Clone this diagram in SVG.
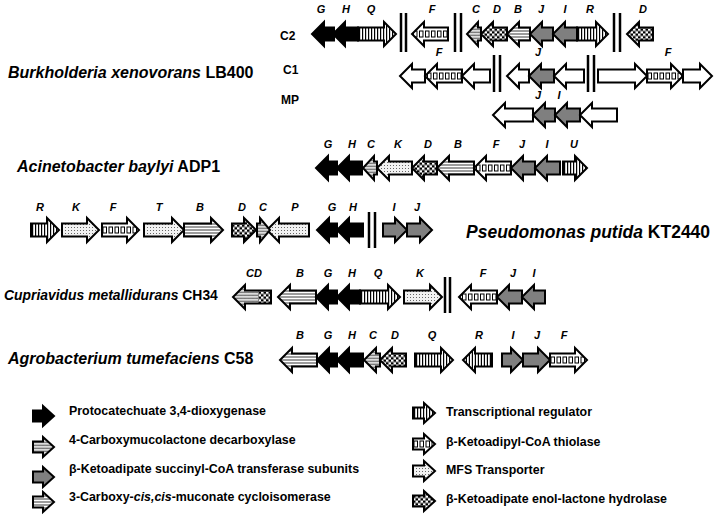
<svg xmlns="http://www.w3.org/2000/svg" width="727" height="515" viewBox="0 0 727 515">
<style>
.a{stroke:#000;stroke-width:2;stroke-linejoin:miter}
.k{fill:#000}.gr{fill:#7f7f7f}.w{fill:#fff}
.v{fill:url(#pv)}.h{fill:url(#ph)}.c{fill:url(#pc)}.z{fill:url(#pw)}.d{fill:url(#pd)}.t{fill:url(#pt)}
.g{font-family:"Liberation Sans",Arial,sans-serif;font-style:italic;font-weight:bold;font-size:11px;text-anchor:middle;fill:#000}
.sp{font-family:"Liberation Sans",Arial,sans-serif;font-weight:bold;font-size:16px;fill:#000}
.rl{font-family:"Liberation Sans",Arial,sans-serif;font-weight:bold;font-size:12px;fill:#000}
.lg{font-family:"Liberation Sans",Arial,sans-serif;font-weight:bold;font-size:12.4px;fill:#000}
.br{stroke:#000;stroke-width:2.5}
</style>
<defs>
<pattern id="pv" patternUnits="userSpaceOnUse" width="3" height="40" y="-20"><rect width="3" height="40" fill="#fff"/><rect x="1" width="1.2" height="40" fill="#000"/></pattern>
<pattern id="ph" patternUnits="userSpaceOnUse" width="10" height="3" y="-0.5"><rect width="10" height="3" fill="#fff"/><rect width="10" height="0.9" fill="#222"/></pattern>
<pattern id="pc" patternUnits="userSpaceOnUse" width="5" height="5" y="-0.5"><rect width="5" height="5" fill="#fff"/><rect width="2.5" height="2.5" fill="#000"/><rect x="2.5" y="2.5" width="2.5" height="2.5" fill="#000"/></pattern>
<pattern id="pw" patternUnits="userSpaceOnUse" width="4" height="3"><rect width="4" height="3" fill="#dcdcdc"/><path d="M0,2L1,0.7L2,2L3,0.7L4,2" stroke="#444" stroke-width="0.7" fill="none"/></pattern>
<pattern id="pd" patternUnits="userSpaceOnUse" width="3" height="3"><rect width="3" height="3" fill="#f2f2f2"/><rect width="1" height="1" fill="#666"/></pattern>
<pattern id="pt" patternUnits="userSpaceOnUse" width="6" height="40" y="-20"><rect width="6" height="40" fill="#fff"/><rect x="1" y="17" width="3.5" height="6" fill="none" stroke="#000" stroke-width="1"/></pattern>
</defs>

<g id="titles">
<text class="sp" x="8" y="78"><tspan font-style="italic">Burkholderia xenovorans</tspan> LB400</text>
<text class="sp" x="17" y="172"><tspan font-style="italic">Acinetobacter baylyi</tspan> ADP1</text>
<text class="sp" x="466" y="238" style="font-size:17.5px"><tspan font-style="italic">Pseudomonas putida</tspan> KT2440</text>
<text class="sp" x="4" y="300" style="font-size:13.9px"><tspan font-style="italic">Cupriavidus metallidurans</tspan> CH34</text>
<text class="sp" x="8" y="364"><tspan font-style="italic">Agrobacterium tumefaciens</tspan> C58</text>
<text class="rl" x="280" y="40">C2</text>
<text class="rl" x="283" y="74">C1</text>
<text class="rl" x="281" y="104">MP</text>
</g>

<g id="connectors">
<line class="br" x1="401" y1="13" x2="401" y2="52"/><line class="br" x1="406" y1="13" x2="406" y2="52"/>
<line class="br" x1="455" y1="13" x2="455" y2="52"/><line class="br" x1="461" y1="13" x2="461" y2="52"/>
<line class="br" x1="614" y1="13" x2="614" y2="52"/><line class="br" x1="620" y1="13" x2="620" y2="52"/>
<line class="br" x1="494" y1="55" x2="494" y2="92"/><line class="br" x1="500" y1="55" x2="500" y2="92"/>
<line class="br" x1="588" y1="55" x2="588" y2="92"/><line class="br" x1="594" y1="55" x2="594" y2="92"/>
<line class="br" x1="369" y1="212" x2="369" y2="248"/><line class="br" x1="375" y1="212" x2="375" y2="248"/>
<line class="br" x1="445" y1="277" x2="445" y2="313"/><line class="br" x1="450" y1="277" x2="450" y2="313"/>
</g>

<g id="row-c2">
<g id="c2-G"><path class="a k" transform="translate(334,34) scale(-1,1)" d="M0,-6.5H10V-12L22,0L10,12V6.5H0Z"/><text class="g" x="321" y="13">G</text></g>
<g id="c2-H"><path class="a k" transform="translate(358,34) scale(-1,1)" d="M0,-6.5H13V-12L25,0L13,12V6.5H0Z"/><text class="g" x="346" y="13">H</text></g>
<g id="c2-Q"><path class="a v" transform="translate(358,34)" d="M0,-6.5H26V-12L38,0L26,12V6.5H0Z"/><text class="g" x="371" y="13">Q</text></g>
<g id="c2-F"><path class="a t" transform="translate(448,34) scale(-1,1)" d="M0,-6.5H24V-12L36,0L24,12V6.5H0Z"/><text class="g" x="432" y="13">F</text></g>
<g id="c2-C"><path class="a z" transform="translate(481,34) scale(-1,1)" d="M0,-6.5H3V-12L14,0L3,12V6.5H0Z"/><text class="g" x="476" y="13">C</text></g>
<g id="c2-D"><path class="a c" transform="translate(507,34) scale(-1,1)" d="M0,-6.5H14V-12L26,0L14,12V6.5H0Z"/><text class="g" x="497" y="13">D</text></g>
<g id="c2-B"><path class="a h" transform="translate(530,34) scale(-1,1)" d="M0,-6.5H11V-12L23,0L11,12V6.5H0Z"/><text class="g" x="518" y="13">B</text></g>
<g id="c2-J"><path class="a gr" transform="translate(553,34) scale(-1,1)" d="M0,-6.5H11V-12L23,0L11,12V6.5H0Z"/><text class="g" x="541" y="13">J</text></g>
<g id="c2-I"><path class="a gr" transform="translate(577,34) scale(-1,1)" d="M0,-6.5H12V-12L24,0L12,12V6.5H0Z"/><text class="g" x="565" y="13">I</text></g>
<g id="c2-R"><path class="a v" transform="translate(577,34)" d="M0,-6.5H19V-12L31,0L19,12V6.5H0Z"/><text class="g" x="590" y="13">R</text></g>
<g id="c2-D2"><path class="a c" transform="translate(653,34) scale(-1,1)" d="M0,-6.5H14V-12L26,0L14,12V6.5H0Z"/><text class="g" x="643" y="13">D</text></g>
</g>

<g id="row-c1">
<g id="c1-o1"><path class="a w" transform="translate(425,76) scale(-1,1)" d="M0,-6.5H13V-12L25,0L13,12V6.5H0Z"/></g>
<g id="c1-F"><path class="a t" transform="translate(462,76) scale(-1,1)" d="M0,-6.5H25V-12L37,0L25,12V6.5H0Z"/><text class="g" x="439" y="56">F</text></g>
<g id="c1-o2"><path class="a w" transform="translate(490,76) scale(-1,1)" d="M0,-6.5H16V-12L28,0L16,12V6.5H0Z"/></g>
<g id="c1-o3"><path class="a w" transform="translate(529,76) scale(-1,1)" d="M0,-6.5H10V-12L22,0L10,12V6.5H0Z"/></g>
<g id="c1-J"><path class="a gr" transform="translate(554,76) scale(-1,1)" d="M0,-6.5H13V-12L25,0L13,12V6.5H0Z"/><text class="g" x="538" y="56">J</text></g>
<g id="c1-o4"><path class="a w" transform="translate(584,76) scale(-1,1)" d="M0,-6.5H18V-12L30,0L18,12V6.5H0Z"/></g>
<g id="c1-o5"><path class="a w" transform="translate(598,76)" d="M0,-6.5H37V-12L49,0L37,12V6.5H0Z"/></g>
<g id="c1-F2"><path class="a t" transform="translate(647,76)" d="M0,-6.5H24V-12L36,0L24,12V6.5H0Z"/><text class="g" x="668" y="56">F</text></g>
<g id="c1-o6"><path class="a w" transform="translate(683,76)" d="M0,-6.5H17V-12L29,0L17,12V6.5H0Z"/></g>
</g>

<g id="row-mp">
<g id="mp-o1"><path class="a w" transform="translate(533,115) scale(-1,1)" d="M0,-6.5H28V-12L40,0L28,12V6.5H0Z"/></g>
<g id="mp-J"><path class="a gr" transform="translate(555,115) scale(-1,1)" d="M0,-6.5H10V-12L22,0L10,12V6.5H0Z"/><text class="g" x="538" y="99">J</text></g>
<g id="mp-I"><path class="a gr" transform="translate(580,115) scale(-1,1)" d="M0,-6.5H13V-12L25,0L13,12V6.5H0Z"/><text class="g" x="559" y="99">I</text></g>
<g id="mp-o2"><path class="a w" transform="translate(617,115) scale(-1,1)" d="M0,-6.5H25V-12L37,0L25,12V6.5H0Z"/></g>
</g>

<g id="row-acin">
<g id="ac-G"><path class="a k" transform="translate(337,168) scale(-1,1)" d="M0,-6.5H9V-12L21,0L9,12V6.5H0Z"/><text class="g" x="328" y="148">G</text></g>
<g id="ac-H"><path class="a k" transform="translate(362,168) scale(-1,1)" d="M0,-6.5H13V-12L25,0L13,12V6.5H0Z"/><text class="g" x="352" y="148">H</text></g>
<g id="ac-C"><path class="a z" transform="translate(377,168) scale(-1,1)" d="M0,-6.5H3V-12L14,0L3,12V6.5H0Z"/><text class="g" x="371" y="148">C</text></g>
<g id="ac-K"><path class="a d" transform="translate(412,168) scale(-1,1)" d="M0,-6.5H23V-12L35,0L23,12V6.5H0Z"/><text class="g" x="398" y="148">K</text></g>
<g id="ac-D"><path class="a c" transform="translate(437,168) scale(-1,1)" d="M0,-6.5H13V-12L25,0L13,12V6.5H0Z"/><text class="g" x="428" y="148">D</text></g>
<g id="ac-B"><path class="a h" transform="translate(474,168) scale(-1,1)" d="M0,-6.5H25V-12L37,0L25,12V6.5H0Z"/><text class="g" x="458" y="148">B</text></g>
<g id="ac-F"><path class="a t" transform="translate(511,168) scale(-1,1)" d="M0,-6.5H25V-12L37,0L25,12V6.5H0Z"/><text class="g" x="496" y="148">F</text></g>
<g id="ac-J"><path class="a gr" transform="translate(535,168) scale(-1,1)" d="M0,-6.5H12V-12L24,0L12,12V6.5H0Z"/><text class="g" x="522" y="148">J</text></g>
<g id="ac-I"><path class="a gr" transform="translate(560,168) scale(-1,1)" d="M0,-6.5H13V-12L25,0L13,12V6.5H0Z"/><text class="g" x="547" y="148">I</text></g>
<g id="ac-U"><path class="a v" transform="translate(563,168)" d="M0,-6.5H12V-12L24,0L12,12V6.5H0Z"/><text class="g" x="574" y="148">U</text></g>
</g>

<g id="row-pseu">
<g id="ps-R"><path class="a v" transform="translate(31,230)" d="M0,-6.5H16V-12L28,0L16,12V6.5H0Z"/><text class="g" x="40" y="211">R</text></g>
<g id="ps-K"><path class="a d" transform="translate(62,230)" d="M0,-6.5H25V-12L37,0L25,12V6.5H0Z"/><text class="g" x="76" y="211">K</text></g>
<g id="ps-F"><path class="a t" transform="translate(102,230)" d="M0,-6.5H25V-12L37,0L25,12V6.5H0Z"/><text class="g" x="113" y="211">F</text></g>
<g id="ps-T"><path class="a d" transform="translate(144,230)" d="M0,-6.5H28V-12L40,0L28,12V6.5H0Z"/><text class="g" x="159" y="211">T</text></g>
<g id="ps-B"><path class="a h" transform="translate(184,230)" d="M0,-6.5H27V-12L39,0L27,12V6.5H0Z"/><text class="g" x="200" y="211">B</text></g>
<g id="ps-D"><path class="a c" transform="translate(232,230)" d="M0,-6.5H12V-12L24,0L12,12V6.5H0Z"/><text class="g" x="242" y="211">D</text></g>
<g id="ps-P"><path class="a d" transform="translate(309,230) scale(-1,1)" d="M0,-6.5H30V-12L42,0L30,12V6.5H0Z"/><text class="g" x="295" y="211">P</text></g>
<g id="ps-C"><path class="a z" transform="translate(257,230)" d="M0,-6.5H3V-12L13,0L3,12V6.5H0Z"/><text class="g" x="263" y="211">C</text></g>
<g id="ps-G"><path class="a k" transform="translate(337,230) scale(-1,1)" d="M0,-6.5H8V-12L20,0L8,12V6.5H0Z"/><text class="g" x="332" y="211">G</text></g>
<g id="ps-H"><path class="a k" transform="translate(363,230) scale(-1,1)" d="M0,-6.5H14V-12L26,0L14,12V6.5H0Z"/><text class="g" x="353" y="211">H</text></g>
<g id="ps-I"><path class="a gr" transform="translate(383,230)" d="M0,-6.5H12V-12L24,0L12,12V6.5H0Z"/><text class="g" x="394" y="211">I</text></g>
<g id="ps-J"><path class="a gr" transform="translate(407,230)" d="M0,-6.5H13V-12L25,0L13,12V6.5H0Z"/><text class="g" x="417" y="211">J</text></g>
</g>

<g id="row-cupr">
<g id="cu-CD" transform="translate(271,297) scale(-1,1)"><path class="z" d="M0,-6.5H26V-12L38,0L26,12V6.5H0Z"/><rect class="c" x="0" y="-6.5" width="13" height="13"/><path class="a" fill="none" d="M0,-6.5H26V-12L38,0L26,12V6.5H0Z"/><text class="g" transform="scale(-1,1)" x="-17" y="-20">CD</text></g>
<g id="cu-B"><path class="a h" transform="translate(316,297) scale(-1,1)" d="M0,-6.5H26V-12L38,0L26,12V6.5H0Z"/><text class="g" x="300" y="277">B</text></g>
<g id="cu-G"><path class="a k" transform="translate(337,297) scale(-1,1)" d="M0,-6.5H9V-12L21,0L9,12V6.5H0Z"/><text class="g" x="328" y="277">G</text></g>
<g id="cu-H"><path class="a k" transform="translate(360,297) scale(-1,1)" d="M0,-6.5H11V-12L23,0L11,12V6.5H0Z"/><text class="g" x="352" y="277">H</text></g>
<g id="cu-Q"><path class="a v" transform="translate(360,297)" d="M0,-6.5H28V-12L40,0L28,12V6.5H0Z"/><text class="g" x="378" y="277">Q</text></g>
<g id="cu-K"><path class="a d" transform="translate(404,297)" d="M0,-6.5H26V-12L38,0L26,12V6.5H0Z"/><text class="g" x="420" y="277">K</text></g>
<g id="cu-F"><path class="a t" transform="translate(497,297) scale(-1,1)" d="M0,-6.5H26V-12L38,0L26,12V6.5H0Z"/><text class="g" x="483" y="277">F</text></g>
<g id="cu-J"><path class="a gr" transform="translate(522,297) scale(-1,1)" d="M0,-6.5H13V-12L25,0L13,12V6.5H0Z"/><text class="g" x="513" y="277">J</text></g>
<g id="cu-I"><path class="a gr" transform="translate(545,297) scale(-1,1)" d="M0,-6.5H11V-12L23,0L11,12V6.5H0Z"/><text class="g" x="534" y="277">I</text></g>
</g>

<g id="row-agro">
<g id="ag-B"><path class="a h" transform="translate(317,360) scale(-1,1)" d="M0,-6.5H25V-12L37,0L25,12V6.5H0Z"/><text class="g" x="300" y="339">B</text></g>
<g id="ag-G"><path class="a k" transform="translate(337,360) scale(-1,1)" d="M0,-6.5H8V-12L20,0L8,12V6.5H0Z"/><text class="g" x="328" y="339">G</text></g>
<g id="ag-H"><path class="a k" transform="translate(363,360) scale(-1,1)" d="M0,-6.5H14V-12L26,0L14,12V6.5H0Z"/><text class="g" x="352" y="339">H</text></g>
<g id="ag-C"><path class="a z" transform="translate(380,360) scale(-1,1)" d="M0,-6.5H4V-12L16,0L4,12V6.5H0Z"/><text class="g" x="373" y="339">C</text></g>
<g id="ag-D"><path class="a c" transform="translate(406,360) scale(-1,1)" d="M0,-6.5H14V-12L26,0L14,12V6.5H0Z"/><text class="g" x="395" y="339">D</text></g>
<g id="ag-Q"><path class="a v" transform="translate(415,360)" d="M0,-6.5H26V-12L38,0L26,12V6.5H0Z"/><text class="g" x="432" y="339">Q</text></g>
<g id="ag-R"><path class="a v" transform="translate(492,360) scale(-1,1)" d="M0,-6.5H17V-12L29,0L17,12V6.5H0Z"/><text class="g" x="479" y="339">R</text></g>
<g id="ag-I"><path class="a gr" transform="translate(502,360)" d="M0,-6.5H9V-12L21,0L9,12V6.5H0Z"/><text class="g" x="513" y="339">I</text></g>
<g id="ag-J"><path class="a gr" transform="translate(523,360)" d="M0,-6.5H15V-12L27,0L15,12V6.5H0Z"/><text class="g" x="537" y="339">J</text></g>
<g id="ag-F"><path class="a t" transform="translate(550,360)" d="M0,-6.5H25V-12L37,0L25,12V6.5H0Z"/><text class="g" x="564" y="339">F</text></g>
</g>

<g id="legend">
<g id="lg1"><path class="a k" transform="translate(33,416)" d="M0,-5.5H10V-10L21,0L10,10V5.5H0Z"/><text class="lg" x="69" y="415">Protocatechuate 3,4-dioxygenase</text></g>
<g id="lg2"><path class="a z" transform="translate(33,447)" d="M0,-5.5H10V-10L21,0L10,10V5.5H0Z"/><text class="lg" x="69" y="444">4-Carboxymucolactone decarboxylase</text></g>
<g id="lg3"><path class="a gr" transform="translate(33,477)" d="M0,-5.5H10V-10L21,0L10,10V5.5H0Z"/><text class="lg" x="69" y="473">β-Ketoadipate succinyl-CoA transferase subunits</text></g>
<g id="lg4"><path class="a h" transform="translate(33,502)" d="M0,-5.5H10V-10L21,0L10,10V5.5H0Z"/><text class="lg" x="69" y="501">3-Carboxy-<tspan font-style="italic">cis,cis</tspan>-muconate cycloisomerase</text></g>
<g id="lg5"><path class="a v" transform="translate(413,413)" d="M0,-5.5H11V-10L22,0L11,10V5.5H0Z"/><text class="lg" x="446" y="416">Transcriptional regulator</text></g>
<g id="lg6"><path class="a t" transform="translate(413,444)" d="M0,-5.5H11V-10L22,0L11,10V5.5H0Z"/><text class="lg" x="446" y="446">β-Ketoadipyl-CoA thiolase</text></g>
<g id="lg7"><path class="a d" transform="translate(413,471)" d="M0,-5.5H11V-10L22,0L11,10V5.5H0Z"/><text class="lg" x="446" y="474">MFS Transporter</text></g>
<g id="lg8"><path class="a c" transform="translate(413,501)" d="M0,-5.5H11V-10L22,0L11,10V5.5H0Z"/><text class="lg" x="446" y="503">β-Ketoadipate enol-lactone hydrolase</text></g>
</g>
</svg>
